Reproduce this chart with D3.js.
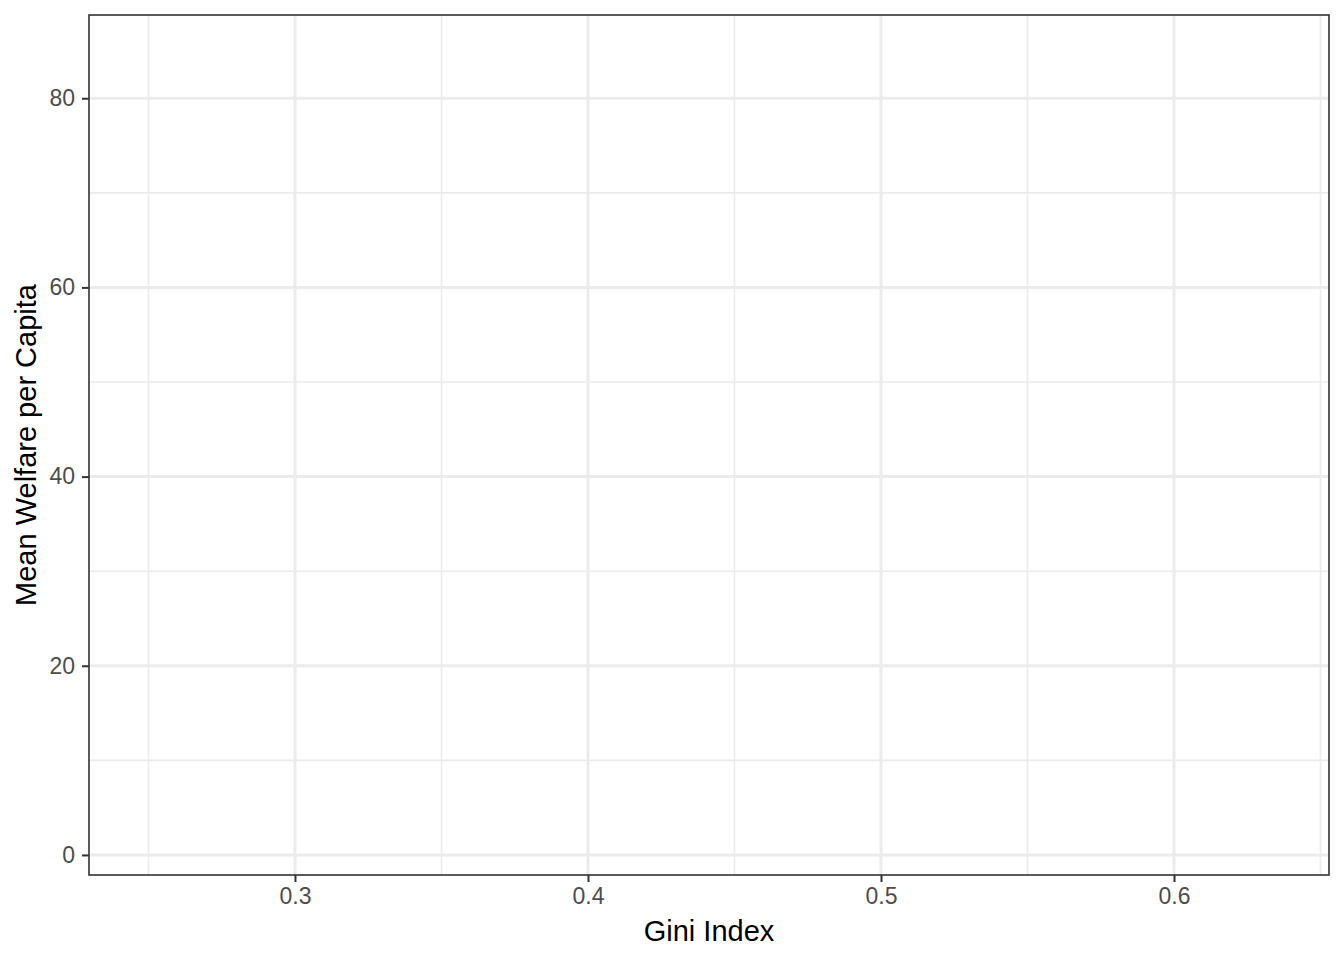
<!DOCTYPE html>
<html>
<head>
<meta charset="utf-8">
<script src="https://cdn.jsdelivr.net/npm/d3@7"></script>
<style>
  body { margin: 0; background: #fff; }
  text { font-family: "Liberation Sans", Arial, sans-serif; }
</style>
</head>
<body>
<script>
// axis domains and ticks (empty chart: no data layer drawn)
const xDomain = [0.2297, 0.6529];
const yDomain = [-2.12, 88.8];
const xMajor = [0.3, 0.4, 0.5, 0.6];
const xMinor = [0.25, 0.35, 0.45, 0.55, 0.65];
const yMajor = [0, 20, 40, 60, 80];
const yMinor = [10, 30, 50, 70];
const xTitle = "Gini Index";
const yTitle = "Mean Welfare per Capita";

const width = 1344;
const height = 960;

const pl = 89;
const pr = 15;
const pt = 15;
const pb = 85;
const graphWidth = width - pl - pr;
const graphHeight = height - pt - pb;

const xScale = d3.scaleLinear().domain(xDomain).range([0, graphWidth]);
const yScale = d3.scaleLinear().domain(yDomain).range([graphHeight, 0]);

const svg = d3.select("body").append("svg")
    .attr("width", width)
    .attr("height", height);

svg.append("rect").attr("width", width).attr("height", height).attr("fill", "white");

const container = svg.append("g").attr("transform", `translate(${pl},${pt})`);

// minor grid
container.selectAll("line.xMinor")
    .data(xMinor.filter(d => xScale(d) <= graphWidth))
    .enter().append("line")
    .attr("class", "xMinor")
    .attr("x1", d => xScale(d)).attr("x2", d => xScale(d))
    .attr("y1", 0).attr("y2", graphHeight)
    .attr("stroke", "#ebebeb").attr("stroke-width", 1.6);

container.selectAll("line.yMinor")
    .data(yMinor)
    .enter().append("line")
    .attr("class", "yMinor")
    .attr("y1", d => yScale(d)).attr("y2", d => yScale(d))
    .attr("x1", 0).attr("x2", graphWidth)
    .attr("stroke", "#ebebeb").attr("stroke-width", 1.6);

// major grid
container.selectAll("line.xMajor")
    .data(xMajor)
    .enter().append("line")
    .attr("class", "xMajor")
    .attr("x1", d => xScale(d)).attr("x2", d => xScale(d))
    .attr("y1", 0).attr("y2", graphHeight)
    .attr("stroke", "#ebebeb").attr("stroke-width", 3);

container.selectAll("line.yMajor")
    .data(yMajor)
    .enter().append("line")
    .attr("class", "yMajor")
    .attr("y1", d => yScale(d)).attr("y2", d => yScale(d))
    .attr("x1", 0).attr("x2", graphWidth)
    .attr("stroke", "#ebebeb").attr("stroke-width", 3);

// axes
const xAxis = container.append("g")
    .attr("transform", `translate(0,${graphHeight})`)
    .call(d3.axisBottom(xScale).tickValues(xMajor).tickSize(7).tickPadding(6).tickFormat(d3.format(".1f")));

const yAxis = container.append("g")
    .call(d3.axisLeft(yScale).tickValues(yMajor).tickSize(7).tickPadding(7).tickFormat(d3.format("d")));

[xAxis, yAxis].forEach(a => {
    a.select(".domain").remove();
    a.selectAll(".tick line").attr("stroke", "#333333").attr("stroke-width", 2);
    a.selectAll(".tick text")
        .attr("fill", "#4d4d4d")
        .style("font-size", "23px")
        .style("font-family", "'Liberation Sans', Arial, sans-serif");
});

// panel border
container.append("rect")
    .attr("width", graphWidth)
    .attr("height", graphHeight)
    .attr("fill", "none")
    .attr("stroke", "#333333")
    .attr("stroke-width", 1.6);

// titles
svg.append("text")
    .text(xTitle)
    .attr("x", pl + graphWidth / 2)
    .attr("y", 941)
    .attr("text-anchor", "middle")
    .attr("fill", "black")
    .style("font-size", "29px");

svg.append("text")
    .text(yTitle)
    .attr("transform", `translate(36,${pt + graphHeight / 2}) rotate(-90)`)
    .attr("text-anchor", "middle")
    .attr("fill", "black")
    .style("font-size", "29px");
</script>
</body>
</html>
